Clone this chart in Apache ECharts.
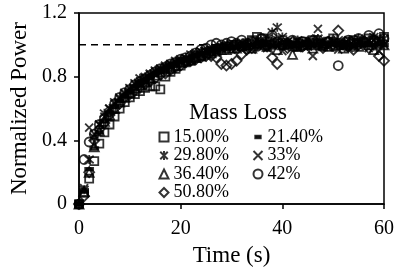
<!DOCTYPE html>
<html>
<head>
<meta charset="utf-8">
<script src="https://cdn.jsdelivr.net/npm/echarts@6/dist/echarts.min.js"></script>
<style>
  html, body { margin: 0; padding: 0; background: #fff; }
  #chart { width: 397px; height: 272px; }
</style>
</head>
<body>
<div id="chart"></div>
<script>
// time in seconds, one sample per second
const time = [];
for (let i = 0; i <= 60; i++) time.push(i);

const massLoss = ['15.00%', '21.40%', '29.80%', '33%', '36.40%', '42%', '50.80%'];

const p15 = [0, 0.07, 0.16, 0.27, 0.38, 0.45, 0.5, 0.55, 0.6, 0.64, 0.67,
  0.69, 0.71, 0.73, 0.74, 0.74, 0.72, 0.8, 0.83, 0.85, 0.87, 0.89, 0.9, 0.92, 0.93, 0.95, 0.96, 0.97, 0.98, 0.99, 1.0,
  1.0, 0.99, 1.01, 1.03, 1.05, 1.04, 1.02, 1.0, 1.01, 1.03, 1.0, 0.99, 1.01, 1.02, 1.0, 1.03, 1.01, 0.99, 1.02, 1.04,
  1.01, 1.0, 1.02, 1.03, 1.01, 1.02, 1.04, 1.03, 1.02, 1.05];
const p21 = [0, 0.08, 0.22, 0.35, 0.45, 0.52, 0.57, 0.61, 0.65, 0.68, 0.71,
  0.74, 0.76, 0.78, 0.8, 0.82, 0.84, 0.85, 0.87, 0.88, 0.9, 0.91, 0.92, 0.93, 0.94, 0.95, 0.96, 0.97, 0.97, 0.98, 0.98,
  0.99, 0.99, 1.0, 1.0, 0.99, 1.01, 1.0, 0.99, 1.01, 1.0, 1.0, 1.01, 0.99, 1.0, 1.01, 1.0, 1.0, 0.99, 1.01, 1.0,
  1.0, 1.01, 1.0, 0.99, 1.0, 1.01, 1.0, 1.0, 1.01, 1.0];
const p29 = [0, 0.09, 0.28, 0.42, 0.5, 0.57, 0.6, 0.64, 0.67, 0.7, 0.73,
  0.76, 0.79, 0.8, 0.82, 0.84, 0.85, 0.87, 0.88, 0.9, 0.91, 0.92, 0.94, 0.95, 0.96, 0.96, 0.97, 0.98, 0.99, 0.99, 1.0,
  1.0, 1.01, 0.99, 1.02, 1.03, 1.01, 1.04, 1.08, 1.11, 1.05, 1.02, 1.0, 1.03, 1.01, 0.99, 1.02, 1.04, 1.01, 1.0, 1.02,
  1.03, 1.0, 0.98, 1.02, 1.04, 1.01, 1.03, 1.05, 1.02, 1.04];
const p33 = [0, 0.1, 0.48, 0.44, 0.5, 0.55, 0.6, 0.63, 0.66, 0.69, 0.72,
  0.75, 0.77, 0.79, 0.81, 0.83, 0.85, 0.86, 0.88, 0.89, 0.9, 0.91, 0.9, 0.93, 0.94, 0.96, 0.97, 0.96, 0.98, 0.99, 0.97,
  0.98, 0.99, 1.01, 0.97, 1.0, 1.02, 0.98, 1.0, 1.03, 0.96, 1.0, 1.01, 0.98, 1.02, 0.99, 0.93, 1.1, 1.02, 0.99, 1.01,
  0.97, 1.0, 1.03, 0.99, 1.02, 1.0, 0.98, 1.03, 0.96, 1.0];
const p36 = [0, 0.08, 0.2, 0.36, 0.46, 0.52, 0.56, 0.6, 0.64, 0.67, 0.7,
  0.73, 0.75, 0.77, 0.79, 0.81, 0.83, 0.85, 0.86, 0.87, 0.89, 0.9, 0.91, 0.92, 0.93, 0.94, 0.95, 0.96, 0.97, 0.97, 0.98,
  0.98, 0.99, 1.0, 0.98, 1.01, 1.0, 0.99, 1.02, 0.97, 1.0, 1.01, 0.94, 0.99, 1.0, 1.02, 0.98, 1.0, 1.01, 0.99, 1.03,
  1.0, 0.98, 1.01, 1.0, 0.99, 1.02, 1.0, 0.97, 1.01, 1.0];
const p42 = [0, 0.28, 0.39, 0.44, 0.5, 0.54, 0.58, 0.63, 0.67, 0.7, 0.72,
  0.75, 0.77, 0.79, 0.81, 0.83, 0.85, 0.86, 0.88, 0.89, 0.91, 0.92, 0.93, 0.95, 0.97, 0.98, 1.0, 1.01, 1.0, 1.01, 1.02,
  1.01, 1.03, 1.0, 1.02, 0.99, 1.04, 1.0, 1.06, 1.02, 1.0, 1.01, 1.03, 0.99, 1.02, 1.0, 1.01, 1.03, 1.0, 1.02, 0.99,
  0.87, 1.0, 1.03, 1.01, 1.04, 1.02, 1.06, 1.03, 1.07, 1.04];
const p50 = [0, 0.05, 0.2, 0.4, 0.47, 0.51, 0.56, 0.6, 0.63, 0.67, 0.69,
  0.71, 0.73, 0.75, 0.77, 0.79, 0.81, 0.82, 0.84, 0.86, 0.87, 0.89, 0.9, 0.91, 0.92, 0.93, 0.93, 0.92, 0.88, 0.87, 0.88,
  0.9, 0.94, 0.97, 0.98, 1.0, 1.01, 0.99, 0.92, 0.88, 1.0, 0.98, 1.02, 1.0, 0.99, 1.01, 1.03, 1.0, 0.98, 1.02, 1.0,
  1.09, 1.01, 0.99, 0.97, 1.0, 1.02, 0.98, 1.0, 0.93, 0.9];

const powers = [p15, p21, p29, p33, p36, p42, p50];

// reference level
const fullPower = [[0, 1], [60, 1]];

const font = 'Times New Roman';
const symbols = [
  { symbol: 'rect', size: 8, fill: 'none' },
  { symbol: 'rect', size: [7, 3], fill: '#000' },
  { symbol: 'path://M0,0L10,10M10,0L0,10M5,-1L5,11', size: 9, fill: 'none' },
  { symbol: 'path://M0,0L10,10M10,0L0,10', size: 8, fill: 'none' },
  { symbol: 'triangle', size: 9, fill: 'none' },
  { symbol: 'circle', size: 9, fill: 'none' },
  { symbol: 'diamond', size: 10, fill: 'none' }
];

const series = powers.map((vals, k) => ({
  name: massLoss[k],
  type: 'scatter',
  data: vals.map((v, i) => [time[i], v]),
  symbol: symbols[k].symbol,
  symbolSize: symbols[k].size,
  itemStyle: { color: symbols[k].fill, borderColor: '#000', borderWidth: 1.8 },
  z: 3
}));

series.unshift({
  type: 'line',
  data: fullPower,
  symbol: 'none',
  lineStyle: { color: '#000', width: 1.5, type: [7, 5] },
  silent: true,
  z: 2
});

const legendBase = {
  orient: 'vertical',
  top: 128,
  itemGap: 0.5,
  itemWidth: 9,
  itemHeight: 9,
  padding: 0,
  selectedMode: false,
  textStyle: { fontFamily: font, fontSize: 18, lineHeight: 17, color: '#000' }
};

const chart = echarts.init(document.getElementById('chart'));
chart.setOption({
  animation: false,
  backgroundColor: '#fff',
  // legend heading
  graphic: [{
    type: 'text',
    x: 238,
    y: 101,
    style: {
      text: 'Mass Loss',
      font: '23px "Liberation Serif", "Times New Roman", serif',
      fill: '#000',
      textAlign: 'center',
      textVerticalAlign: 'top'
    }
  }],
  legend: [
    Object.assign({}, legendBase, { left: 157, data: [massLoss[0], massLoss[2], massLoss[4], massLoss[6]] }),
    Object.assign({}, legendBase, {
      left: 251,
      data: [{ name: massLoss[1], icon: 'path://M0,0M10,10M2,3.5H8V6.5H2Z' }, massLoss[3], massLoss[5]]
    })
  ],
  grid: {
    left: 76, right: 13, top: 13, bottom: 54,
    show: true, borderColor: '#000', borderWidth: 1.5, backgroundColor: 'transparent'
  },
  xAxis: {
    type: 'value',
    min: 0, max: 60, interval: 20,
    name: 'Time (s)',
    nameLocation: 'middle',
    nameGap: 34,
    nameTextStyle: { fontFamily: font, fontSize: 23, color: '#000' },
    axisLine: { lineStyle: { color: '#000', width: 1.5 } },
    axisTick: { length: 5, lineStyle: { color: '#000', width: 1.5 } },
    axisLabel: { fontFamily: font, fontSize: 20, color: '#000', margin: 15 },
    splitLine: { show: false }
  },
  yAxis: {
    type: 'value',
    min: 0, max: 1.2, interval: 0.4,
    name: 'Normalized Power',
    nameLocation: 'middle',
    nameGap: 48,
    nameTextStyle: { fontFamily: font, fontSize: 23, color: '#000' },
    axisLine: { lineStyle: { color: '#000', width: 1.5 } },
    axisTick: { length: 5, lineStyle: { color: '#000', width: 1.5 } },
    axisLabel: { fontFamily: font, fontSize: 20, color: '#000', margin: 12 },
    splitLine: { show: false }
  },
  series: series
});
</script>
</body>
</html>
